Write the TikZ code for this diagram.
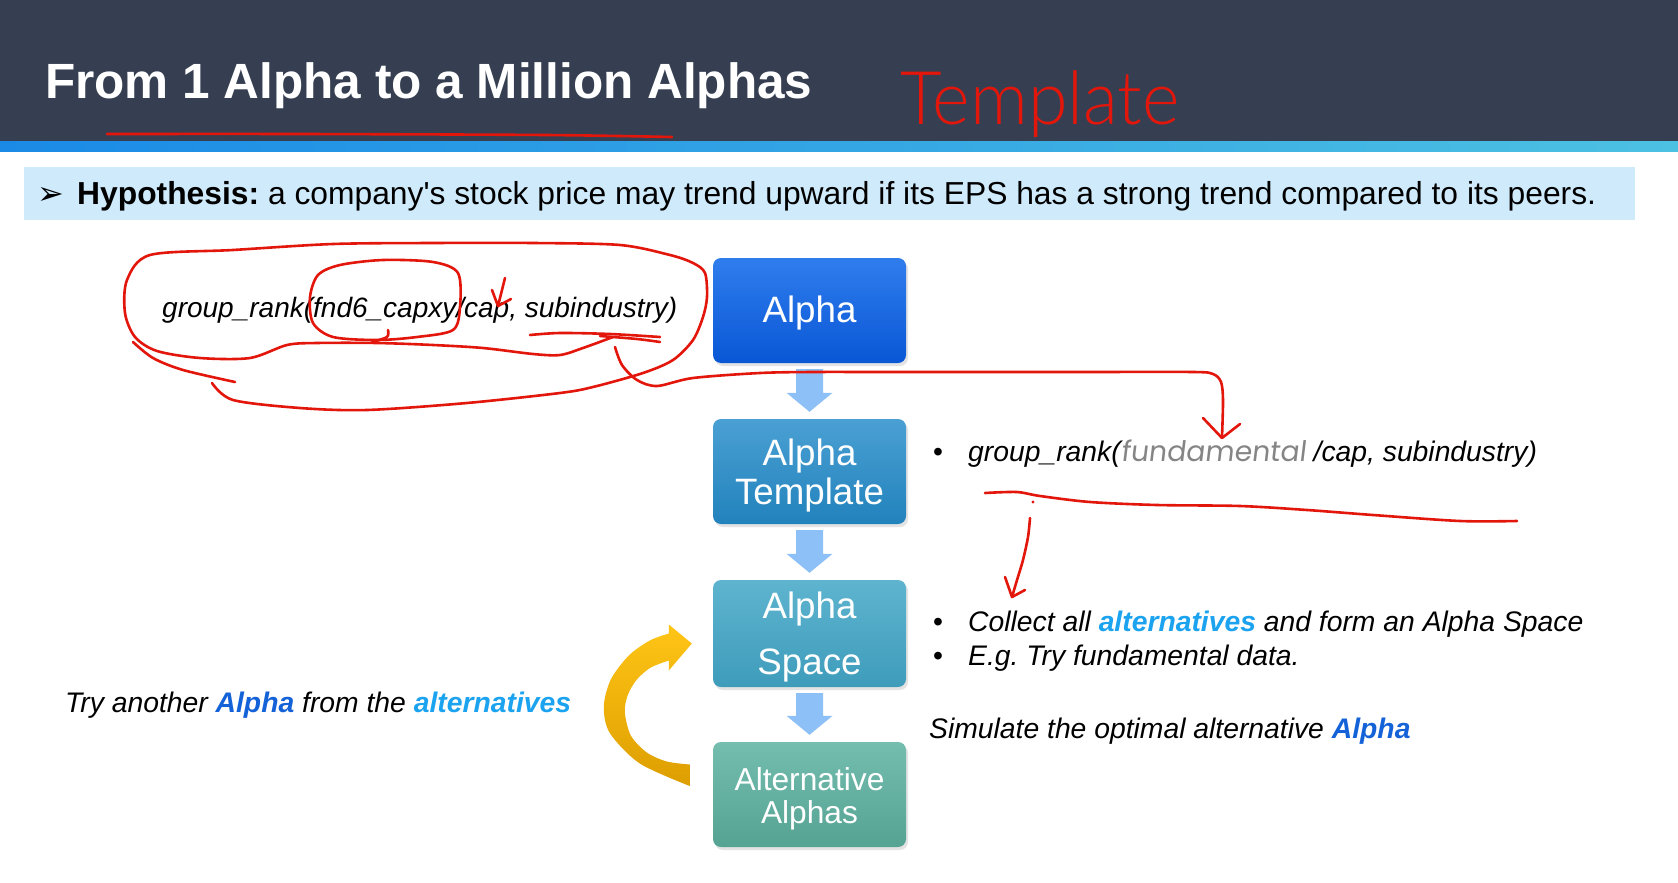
\documentclass[tikz,border=0pt]{standalone}
\usepackage{fontspec}
\setmainfont{Liberation Sans}
\newfontfamily\plainsans{Liberation Sans}
\newfontfamily\symfont{DejaVu Sans}
\newfontfamily\geofont[FakeSlant=0.12]{Poppins}
\IfFontExistsTF{Lato Light}{\newfontfamily\penfont{Lato Light}}{\newfontfamily\penfont{Lato}}
\usetikzlibrary{calc,shadows}

\definecolor{headbg}{HTML}{363F51}
\definecolor{stripL}{HTML}{1A8AE6}
\definecolor{stripR}{HTML}{4DC1E2}
\definecolor{hypbg}{HTML}{CFEAFB}
\definecolor{penred}{HTML}{E3160B}
\definecolor{flowblue}{HTML}{8EC0F8}
\definecolor{hiLight}{HTML}{1BA3F0}
\definecolor{hiDark}{HTML}{1462D8}
\definecolor{fundgray}{HTML}{858585}
\definecolor{alphaA}{HTML}{2F7DED}
\definecolor{alphaB}{HTML}{0A57D6}
\definecolor{tmplA}{HTML}{4AA0D3}
\definecolor{tmplB}{HTML}{2282BC}
\definecolor{spaceA}{HTML}{5EB4CF}
\definecolor{spaceB}{HTML}{3E9CBB}
\definecolor{altA}{HTML}{74BDAF}
\definecolor{altB}{HTML}{55A393}
\definecolor{goldA}{HTML}{FFC516}
\definecolor{goldB}{HTML}{DD9E00}

% block arrow pointing down from the bottom of one box to the top of the next
\newcommand\blockdown[2]{%
  \fill[flowblue] ($(#1.south)+(-13.5,6)$) -- ($(#1.south)+(13.5,6)$)
    -- ($(#2.north)+(13.5,-26)$) -- ($(#2.north)+(23,-26)$)
    -- ($(#2.north)+(0,-7)$) -- ($(#2.north)+(-23,-26)$)
    -- ($(#2.north)+(-13.5,-26)$) -- cycle;}

\tikzset{
  flowbox/.style={rounded corners=8, minimum width=193, minimum height=105,
    inner sep=0, drop shadow={opacity=0.22, shadow xshift=2pt, shadow yshift=-3pt}},
  boxtext/.style={inner sep=0, text=white, align=center},
  bodytext/.style={anchor=base west, inner sep=0, font=\fontsize{28.3}{34}\selectfont},
  pen/.style={draw=penred, line width=2.6, line cap=round, line join=round},
}

\begin{document}
\frenchspacing
\begin{tikzpicture}[x=1pt,y=-1pt]
\useasboundingbox (0,0) rectangle (1678,883);
\fill[white] (0,0) rectangle (1678,883);

% header band
\fill[headbg] (0,0) rectangle (1678,141);
\shade[left color=stripL, right color=stripR] (0,141) rectangle (1678,151);
\node[anchor=base west, inner sep=0, text=white,
      font=\fontsize{49.5}{55}\selectfont\bfseries] (title) at (45,99)
  {From 1 Alpha to a Million Alphas};

% hypothesis bar
\fill[hypbg] (24,167) rectangle (1635,220);
\node[anchor=base west, inner sep=0, font=\symfont\fontsize{32}{36}\selectfont]
  (hyparrow) at (37,204) {➢};
\node[anchor=base west, inner sep=0, font=\plainsans\fontsize{31.8}{36}\selectfont]
  (hyp) at (77,204)
  {\textbf{Hypothesis:} a company's stock price may trend upward if its EPS has a strong trend compared to its peers.};

% flow of boxes
\node[flowbox, top color=alphaA, bottom color=alphaB] (alpha) at (809.5,310.5) {};
\node[flowbox, top color=tmplA, bottom color=tmplB] (tmpl) at (809.5,471.5) {};
\node[flowbox, top color=spaceA, bottom color=spaceB, minimum height=107] (space) at (809.5,633.5) {};
\node[flowbox, top color=altA, bottom color=altB] (alt) at (809.5,794.5) {};

\node[boxtext, font=\fontsize{36.7}{39}\selectfont] (alphaText)
  at ($(alpha.center)+(0,3)$) {Alpha};
\node[boxtext, font=\fontsize{36.7}{39}\selectfont] (tmplText)
  at ($(tmpl.center)+(0,4)$) {Alpha\\Template};
\node[boxtext, font=\fontsize{36.7}{56}\selectfont] (spaceText)
  at ($(space.center)+(0,4)$) {Alpha\\Space};
\node[boxtext, font=\fontsize{31.7}{33}\selectfont] (altText)
  at ($(alt.center)+(0,4)$) {Alternative\\Alphas};

\blockdown{alpha}{tmpl}
\blockdown{tmpl}{space}
\blockdown{space}{alt}

% loop back from the alternatives to the space
\begin{scope}[shift={(alt.west)}]
\shade[top color=goldA, bottom color=goldB]
  (-23,-8.5) -- plot[smooth] coordinates {(-23,-8.5) (-73,-31) (-103,-61.5)
     (-109,-88) (-102,-115) (-84,-139) (-63,-154) (-44,-161)}
  -- (-44,-170) -- (-21,-151) -- (-44,-124) -- (-44,-134)
  -- plot[smooth] coordinates {(-44,-134) (-62,-127) (-76,-115)
     (-85,-99.5) (-88,-82.5) (-82,-59) (-66,-42) (-46,-33) (-23,-30)}
  -- cycle;
\end{scope}

% texts
\node[bodytext, font=\fontsize{28}{34}\selectfont\itshape] (formula) at (162,317)
  {group\_rank(fnd6\_capxy/cap, subindustry)};
\node[bodytext] (dotA) at (933,461) {•};
\node[bodytext, font=\fontsize{28.3}{34}\selectfont\itshape] (generic) at (968,461)
  {group\_rank({\geofont\upshape\color{fundgray}fundamental} /cap, subindustry)};
\node[bodytext] (dotB) at (933,631) {•};
\node[bodytext, font=\fontsize{28.3}{34}\selectfont\itshape] (collect) at (968,631)
  {Collect all \textbf{\color{hiLight}alternatives} and form an Alpha Space};
\node[bodytext] (dotC) at (933,665) {•};
\node[bodytext, font=\fontsize{28.3}{34}\selectfont\itshape] (eg) at (968,665)
  {E.g. Try fundamental data.};
\node[bodytext, font=\fontsize{28.3}{34}\selectfont\itshape] (simulate) at (929,738)
  {Simulate the optimal alternative \textbf{\color{hiDark}Alpha}};
\node[bodytext, font=\fontsize{28.3}{34}\selectfont\itshape] (tryalt) at (65,712)
  {Try another \textbf{\color{hiDark}Alpha} from the \textbf{\color{hiLight}alternatives}};

% red pen notes
\node[anchor=base west, inner sep=0, text=penred,
      font=\penfont\fontsize{74}{80}\selectfont] (pennote) at (900,124)
  {\scalebox{0.97}[1]{Template}};
\draw[pen] plot[smooth] coordinates {(107,134) (300,134) (545,135) (672,137)};

\draw[pen] plot[smooth] coordinates {(613,337) (583,348) (560,355) (533,354)
  (483,348) (433,345) (377,343) (317,343) (287,345) (250,358) (200,358)
  (157,351) (135,337) (125,313) (127,280) (150,255) (233,250) (333,244)
  (433,243) (533,243) (620,245) (670,255) (693,263) (705,273) (707,297)
  (703,317) (693,340) (673,360) (643,373) (593,387) (560,393) (467,403)
  (367,410) (300,408) (233,400) (212,383)};
\draw[pen] plot[smooth] coordinates {(133,342) (153,358) (183,370) (235,382)};
\draw[pen] plot[smooth cycle] coordinates {(310,297) (318,275) (340,265)
  (383,260) (433,262) (458,273) (460,307) (453,330) (417,337) (377,340)
  (333,337) (313,323)};
\draw[pen] plot[smooth] coordinates {(372,342) (387,337) (388,330)};
\draw[pen] (492,290) -- (498,306) -- (505,278);
\draw[pen] (498,306) -- (511,299);
\draw[pen] plot[smooth] coordinates {(530,335) (560,333) (610,334) (660,337)};
\draw[pen] plot[smooth] coordinates {(600,336) (637,339) (660,342)};

\draw[pen] plot[smooth] coordinates {(615,347) (622,365) (637,380) (657,386)
  (693,378) (760,373) (813,372) (893,372) (1080,372) (1193,372) (1213,374)
  (1221,382) (1223,400) (1222,437)};
\draw[pen] (1203,418) -- (1222,438) -- (1240,424);

\draw[pen] plot[smooth] coordinates {(985,493) (1017,492) (1040,496) (1090,502)
  (1157,505) (1240,506) (1307,510) (1373,515) (1460,521) (1517,521)};
\fill[penred] (1033,502) circle (1.6);
\draw[pen] plot[smooth] coordinates {(1030,518) (1028,537) (1023,560)
  (1017,580) (1012,597)};
\draw[pen] (1005,577) -- (1012,597) -- (1025,590);
\end{tikzpicture}
\end{document}
